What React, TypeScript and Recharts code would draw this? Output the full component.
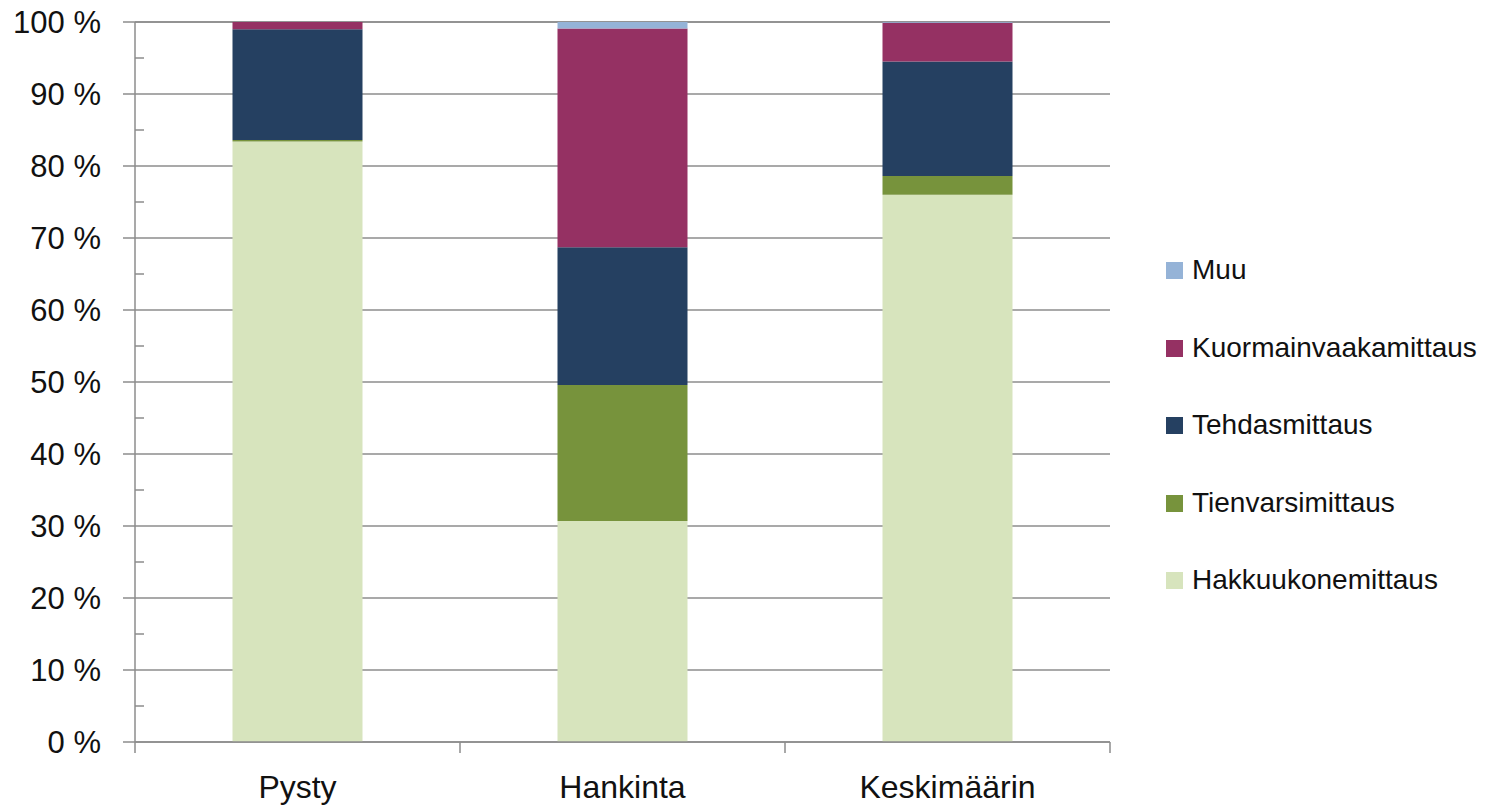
import React from "react"
import { BarChart, Bar, XAxis, YAxis, CartesianGrid } from "recharts"

// categories and shares (%)
const categories = ["Pysty", "Hankinta", "Keskimäärin"]
const hakkuukone = [83.4, 30.7, 76.0]
const tienvarsi = [0.2, 18.9, 2.6]
const tehdas = [15.4, 19.1, 15.9]
const kuormainvaaka = [1.0, 30.4, 5.4]
const muu = [0, 0.9, 0.1]
const yTicks = [0, 10, 20, 30, 40, 50, 60, 70, 80, 90, 100]

const series = [
  { key: "hakkuu", name: "Hakkuukonemittaus", values: hakkuukone, color: "#D7E4BD" },
  { key: "tienvarsi", name: "Tienvarsimittaus", values: tienvarsi, color: "#77933C" },
  { key: "tehdas", name: "Tehdasmittaus", values: tehdas, color: "#254061" },
  { key: "kuormain", name: "Kuormainvaakamittaus", values: kuormainvaaka, color: "#953163" },
  { key: "muu", name: "Muu", values: muu, color: "#95B3D7" },
]

const data = categories.map((c, i) => {
  const row: Record<string, string | number> = { name: c }
  series.forEach((s) => (row[s.key] = s.values[i]))
  return row
})

const W = 1486
const H = 806
const LEFT = 135
const RIGHT = 1110
const TOP = 22
const BOTTOM = 742
const FONT = "'Liberation Sans', Arial, sans-serif"
const GRID = "#8c8c8c"
const bandW = (RIGHT - LEFT) / categories.length
const pxPerPct = (BOTTOM - TOP) / 100

const YTick = (props: any) => {
  const { y, payload } = props
  return (
    <g>
      <line x1={LEFT - 12} x2={LEFT} y1={y} y2={y} stroke={GRID} strokeWidth={1.5} />
      {payload.value < 100 && (
        <line x1={LEFT} x2={LEFT + 9} y1={y - 5 * pxPerPct} y2={y - 5 * pxPerPct} stroke={GRID} strokeWidth={1.5} />
      )}
      <text x={101} y={y} dy="0.35em" textAnchor="end" fontSize={31} fill="#111" fontFamily={FONT}>
        {`${payload.value} %`}
      </text>
    </g>
  )
}

const XTick = (props: any) => {
  const { x, payload } = props
  const last = payload.index === categories.length - 1
  return (
    <g>
      <line x1={x - bandW / 2} x2={x - bandW / 2} y1={BOTTOM} y2={BOTTOM + 11} stroke={GRID} strokeWidth={1.5} />
      {last && <line x1={x + bandW / 2} x2={x + bandW / 2} y1={BOTTOM} y2={BOTTOM + 11} stroke={GRID} strokeWidth={1.5} />}
      <text x={x} y={BOTTOM + 56} textAnchor="middle" fontSize={32} fill="#111" fontFamily={FONT}>
        {payload.value}
      </text>
    </g>
  )
}

const legendTops = [270, 348, 425, 503, 580]

export default function App() {
  const legendItems = [...series].reverse()
  return (
    <div style={{ position: "absolute", left: 0, top: 0, width: W, height: H, background: "#fff" }}>
      <BarChart
        width={W}
        height={H}
        data={data}
        margin={{ top: TOP, right: W - RIGHT, left: 0, bottom: 0 }}
        barCategoryGap="30%"
      >
        <CartesianGrid vertical={false} stroke={GRID} strokeWidth={1.5} />
        <XAxis
          dataKey="name"
          height={H - BOTTOM}
          axisLine={{ stroke: GRID, strokeWidth: 1.5 }}
          tickLine={false}
          tick={<XTick />}
          interval={0}
        />
        <YAxis
          width={LEFT}
          domain={[0, 100]}
          ticks={yTicks}
          interval={0}
          axisLine={{ stroke: GRID, strokeWidth: 1.5 }}
          tickLine={false}
          tick={<YTick />}
        />
        {series.map((s) => (
          <Bar key={s.key} dataKey={s.key} name={s.name} stackId="a" fill={s.color} isAnimationActive={false} />
        ))}
      </BarChart>
      {legendItems.map((s, i) => (
        <div
          key={s.key}
          style={{
            position: "absolute",
            left: 1166,
            top: legendTops[i] - 18,
            height: 36,
            display: "flex",
            alignItems: "center",
            fontFamily: FONT,
            fontSize: 28,
            color: "#111",
            whiteSpace: "nowrap",
          }}
        >
          <span style={{ width: 17, height: 17, background: s.color, display: "inline-block", marginRight: 9 }} />
          {s.name}
        </div>
      ))}
    </div>
  )
}
